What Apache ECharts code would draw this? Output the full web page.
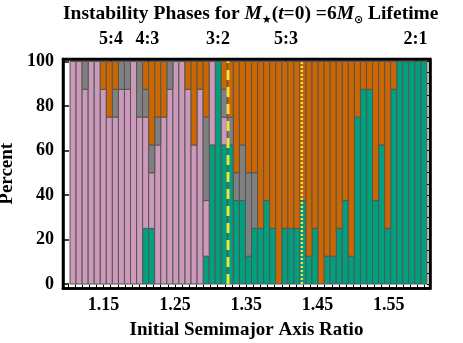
<!DOCTYPE html>
<html><head><meta charset="utf-8">
<script src="https://cdn.jsdelivr.net/npm/echarts@6/dist/echarts.min.js"></script>
<style>html,body{margin:0;padding:0;background:#fff}#c{width:463px;height:343px}</style>
</head><body><div id="c"></div>
<script>
// Bar positions (initial semimajor axis ratio, estimated)
const categories = ['1.107','1.115','1.124','1.132','1.141','1.149','1.158','1.166','1.175','1.183',
  '1.192','1.200','1.209','1.217','1.226','1.234','1.243','1.251','1.260','1.268',
  '1.277','1.285','1.294','1.302','1.311','1.319','1.327','1.336','1.344','1.353',
  '1.361','1.370','1.378','1.387','1.395','1.404','1.412','1.421','1.429','1.438',
  '1.446','1.455','1.463','1.472','1.480','1.489','1.497','1.506','1.514','1.523',
  '1.531','1.540','1.548','1.556','1.565','1.573','1.582','1.590','1.599'];
// Percent of runs in each phase (stack order: green bottom, pink, gray, orange top)
const greenVals = [0,0,0,0,0,0,0,0,0,0,0,0,25,25,0,0,0,0,0,0,0,0,12.5,62.5,100,62.5,62.5,37.5,37.5,12.5,
  25,25,37.5,25,0,25,25,25,37.5,12.5,25,0,12.5,12.5,25,37.5,12.5,75,87.5,87.5,37.5,62.5,25,87.5,100,100,100,100,100];
const pinkVals = [100,100,87.5,100,100,87.5,75,75,87.5,87.5,100,75,50,25,62.5,75,87.5,100,100,87.5,62.5,87.5,25,37.5,0,12.5,0,0,0,0,
  0,0,0,0,0,0,0,0,0,0,0,0,0,0,0,0,0,0,0,0,0,0,0,0,0,0,0,0,0];
const grayVals = [0,0,12.5,0,0,0,0,12.5,12.5,12.5,0,25,12.5,12.5,12.5,0,12.5,0,0,0,0,0,37.5,0,0,12.5,12.5,12.5,25,37.5,
  25,0,0,0,0,0,0,0,0,0,0,0,0,0,0,0,0,0,0,0,0,0,0,0,0,0,0,0,0];
const orangeVals = [0,0,0,0,0,12.5,25,12.5,0,0,0,0,12.5,37.5,25,25,0,0,0,12.5,37.5,12.5,25,0,0,12.5,25,50,37.5,50,
  50,75,62.5,75,100,75,75,75,62.5,87.5,75,100,87.5,87.5,75,62.5,87.5,25,12.5,12.5,62.5,37.5,75,12.5,0,0,0,0,0];
const bottomTicks = [1.15,1.25,1.35,1.45,1.55];
const resonanceLabels = ['5:4','4:3','3:2','5:3','2:1'];
const resonancePos = [1.1604,1.2114,1.3104,1.4057,1.5874];
const yTicks = [0,20,40,60,80,100];
const dashedX = 1.3245;
const dottedX = 1.428;

const FONT = 'Liberation Serif';
const xMin = 1.09306, xMax = 1.60778;
const yMin = -2.02, yMax = 101.12;
const xMinor = []; for (let i = 0; i <= 50; i++) xMinor.push(+(1.10 + i*0.01).toFixed(2));
const yMinor = []; for (let i = 0; i <= 20; i++) yMinor.push(i*5);

// Build stacked segments [categoryIndex, start, end] from the value arrays
const phases = [
  {name:'green', vals:greenVals, color:'#00A07F'},
  {name:'pink', vals:pinkVals, color:'#CC99BB'},
  {name:'gray', vals:grayVals, color:'#808080'},
  {name:'orange', vals:orangeVals, color:'#CC6600'}
];
const base = categories.map(() => 0);
const barSeries = phases.map(ph => {
  const data = [];
  ph.vals.forEach((v, i) => { if (v > 0) data.push([i, base[i], base[i] + v]); base[i] += v; });
  return {
    name: ph.name, type:'custom', xAxisIndex:0, yAxisIndex:0, silent:true, z:2,
    encode:{x:0, y:[1,2]}, data,
    renderItem:(params, api) => {
      const i = api.value(0);
      const p0 = api.coord([i, api.value(1)]);
      const p1 = api.coord([i, api.value(2)]);
      const w = api.size([1, 0])[0];
      return {type:'rect', shape:{x:p0[0]-w/2, y:p1[1], width:w, height:p0[1]-p1[1]},
        style:{fill:ph.color, stroke:'#555555', lineWidth:1}};
    }
  };
});

const labelFont = {fontFamily:FONT, fontWeight:'bold', fontSize:18, color:'#000'};
const nameFont = {fontFamily:FONT, fontWeight:'bold', fontSize:19, color:'#000'};
const frameLine = () => ({show:true, onZero:false, lineStyle:{color:'#000', width:2.5}});

const chart = echarts.init(document.getElementById('c'), null, {renderer:'canvas'});
chart.setOption({
  animation:false,
  title:{
    left:58, top:-3,
    text:'{b|Instability Phases for }{i|M}{s|★}{b|(}{i|t}{b|=0) =6}{i|M}{s|⊙}{b| Lifetime}',
    textStyle:{rich:{
      b:{fontFamily:FONT, fontWeight:'bold', fontSize:19.5, color:'#000', lineHeight:24},
      i:{fontFamily:FONT, fontWeight:'bold', fontStyle:'italic', fontSize:19.5, color:'#000', lineHeight:24},
      s:{fontFamily:'DejaVu Sans', fontSize:11, color:'#000', verticalAlign:'bottom', lineHeight:12}
    }}
  },
  grid:[
    {left:70, width:357, top:61.5, height:222.5, show:false, outerBoundsMode:'none'},
    {left:63, width:367, top:59, height:229.5, show:true, borderColor:'#000', borderWidth:2.5, outerBoundsMode:'none'}
  ],
  xAxis:[
    {type:'category', gridIndex:0, data:categories, show:false, boundaryGap:true},
    {type:'value', gridIndex:1, min:xMin, max:xMax, position:'bottom',
      axisLine:frameLine(), splitLine:{show:false},
      axisTick:{show:true, inside:true, length:4, customValues:xMinor, lineStyle:{color:'#000', width:1}},
      axisLabel:Object.assign({customValues:bottomTicks, margin:8, formatter:v=>v.toFixed(2)}, labelFont),
      name:'Initial Semimajor Axis Ratio', nameLocation:'middle', nameGap:32,
      nameTextStyle:Object.assign({}, nameFont)},
    {type:'value', gridIndex:1, min:xMin, max:xMax, position:'top',
      axisLine:frameLine(), splitLine:{show:false},
      axisTick:{show:true, inside:true, length:5, customValues:resonancePos, lineStyle:{color:'#000', width:1.5}},
      axisLabel:Object.assign({customValues:resonancePos, margin:11,
        formatter:v=>{const i=resonancePos.findIndex(p=>Math.abs(p-v)<1e-6); return i>=0?resonanceLabels[i]:'';}}, labelFont)}
  ],
  yAxis:[
    {type:'value', gridIndex:0, min:0, max:100, show:false},
    {type:'value', gridIndex:1, min:yMin, max:yMax, position:'left',
      axisLine:frameLine(), splitLine:{show:false},
      axisTick:{show:true, inside:true, length:6, customValues:yTicks, lineStyle:{color:'#000', width:1.5}},
      axisLabel:Object.assign({customValues:yTicks, margin:9}, labelFont),
      name:'Percent', nameLocation:'middle', nameGap:41, nameRotate:90,
      nameTextStyle:Object.assign({}, nameFont)},
    {type:'value', gridIndex:1, min:yMin, max:yMax, position:'right',
      axisLine:frameLine(), splitLine:{show:false},
      axisTick:{show:true, inside:true, length:3, customValues:yMinor, lineStyle:{color:'#000', width:1}},
      axisLabel:{show:false}}
  ],
  series:barSeries.concat([
    {type:'line', xAxisIndex:1, yAxisIndex:1, data:[[dashedX,0],[dashedX,100]], showSymbol:false, silent:true, z:10,
      lineStyle:{color:'#F0E040', width:3, type:[10,7], cap:'butt'}},
    {type:'line', xAxisIndex:1, yAxisIndex:1, data:[[dottedX,0],[dottedX,100]], showSymbol:false, silent:true, z:10,
      lineStyle:{color:'#F0E040', width:2.5, type:[2,2], cap:'butt'}}
  ])
});
</script></body></html>
